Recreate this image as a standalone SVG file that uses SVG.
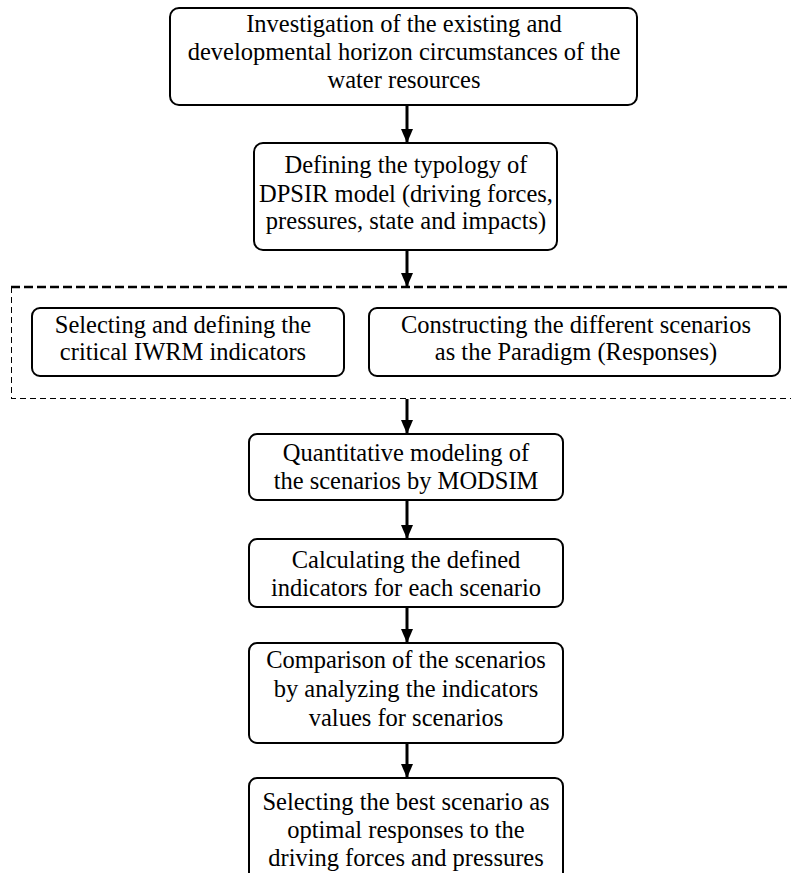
<svg xmlns="http://www.w3.org/2000/svg" width="791" height="873" viewBox="0 0 791 873">
<defs>
<style>
.box{fill:#fff;stroke:#000;stroke-width:2}
.t{font-family:"Liberation Serif","Times New Roman",serif;font-size:24.5px;fill:#000;text-anchor:middle}
.arr{stroke:#000;stroke-width:3;fill:none}
</style>
<marker id="ah" markerWidth="14" markerHeight="12" refX="13" refY="6" orient="auto" markerUnits="userSpaceOnUse">
<path d="M0,0 L14,6 L0,12 Z" fill="#000"/>
</marker>
</defs>
<rect width="791" height="873" fill="#fff"/>
<g id="group-dashed">
<path d="M11,287 H791" stroke="#000" stroke-width="2.5" stroke-dasharray="9,4" fill="none"/>
<path d="M11.5,287 V398.5 H791" stroke="#000" stroke-width="1" stroke-dasharray="6,4" fill="none" shape-rendering="crispEdges"/>
</g>
<g id="connectors">
<line class="arr" x1="407" y1="106" x2="407" y2="142" marker-end="url(#ah)"/>
<line class="arr" x1="407" y1="251" x2="407" y2="286" marker-end="url(#ah)"/>
<line class="arr" x1="407" y1="399" x2="407" y2="433" marker-end="url(#ah)"/>
<line class="arr" x1="407" y1="501" x2="407" y2="538" marker-end="url(#ah)"/>
<line class="arr" x1="407" y1="608" x2="407" y2="642" marker-end="url(#ah)"/>
<line class="arr" x1="407" y1="744" x2="407" y2="777" marker-end="url(#ah)"/>
</g>
<g id="n1">
<rect class="box" x="170" y="8" width="467" height="97" rx="9"/>
<text class="t" x="404" y="32">Investigation of the existing and</text>
<text class="t" x="404" y="60">developmental horizon circumstances of the</text>
<text class="t" x="404" y="88">water resources</text>
</g>
<g id="n2">
<rect class="box" x="254" y="143" width="303" height="107" rx="9"/>
<text class="t" x="406" y="173">Defining the typology of</text>
<text class="t" x="406" y="202">DPSIR model (driving forces,</text>
<text class="t" x="406" y="229">pressures, state and impacts)</text>
</g>
<g id="n3">
<rect class="box" x="32" y="308" width="312" height="68" rx="8"/>
<text class="t" x="183" y="333">Selecting and defining the</text>
<text class="t" x="183" y="360">critical IWRM indicators</text>
</g>
<g id="n4">
<rect class="box" x="369" y="308" width="411" height="68" rx="8"/>
<text class="t" x="576" y="333">Constructing the different scenarios</text>
<text class="t" x="576" y="360">as the Paradigm (Responses)</text>
</g>
<g id="n5">
<rect class="box" x="249" y="434" width="314" height="66" rx="8"/>
<text class="t" x="406" y="461">Quantitative modeling of</text>
<text class="t" x="406" y="489">the scenarios by MODSIM</text>
</g>
<g id="n6">
<rect class="box" x="249" y="539" width="314" height="68" rx="8"/>
<text class="t" x="406" y="568">Calculating the defined</text>
<text class="t" x="406" y="596">indicators for each scenario</text>
</g>
<g id="n7">
<rect class="box" x="249" y="643" width="314" height="100" rx="8"/>
<text class="t" x="406" y="668">Comparison of the scenarios</text>
<text class="t" x="406" y="697">by analyzing the indicators</text>
<text class="t" x="406" y="726">values for scenarios</text>
</g>
<g id="n8">
<rect class="box" x="249" y="778" width="314" height="110" rx="8"/>
<text class="t" x="406" y="810">Selecting the best scenario as</text>
<text class="t" x="406" y="838">optimal responses to the</text>
<text class="t" x="406" y="866">driving forces and pressures</text>
</g>
</svg>
